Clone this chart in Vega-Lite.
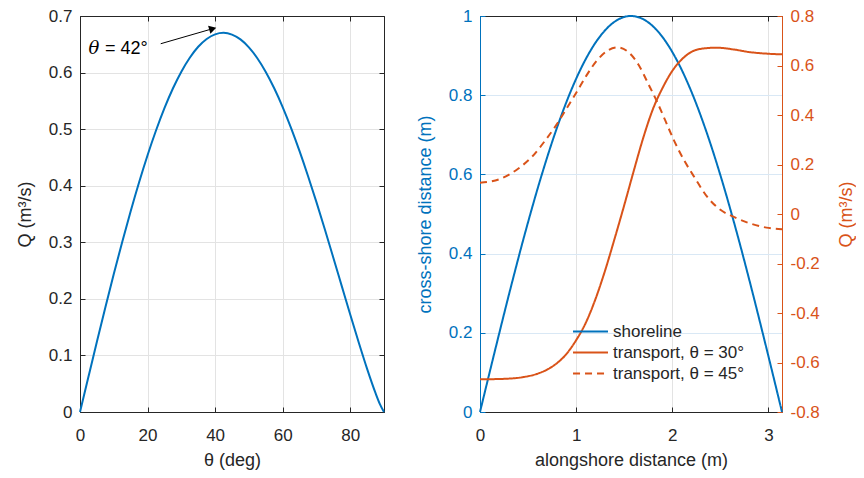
{
  "$schema": "https://vega.github.io/schema/vega-lite/v6.json",
  "background": "white",
  "padding": {"left": 15, "top": 6, "right": 0, "bottom": 0},
  "bounds": "flush",
  "spacing": 96,
  "config": {
    "view": {"stroke": "#262626", "strokeWidth": 1},
    "font": "Liberation Sans",
    "axis": {
      "labelFont": "Liberation Sans", "labelFontSize": 17, "labelColor": "#262626",
      "titleFont": "Liberation Sans", "titleFontSize": 18, "titleFontWeight": "normal", "titleColor": "#262626",
      "domainColor": "#262626", "tickColor": "#262626", "tickSize": -5, "gridColor": "#e3e3e3",
      "labelPadding": 20, "titlePadding": 8, "labelFlush": false
    },
    "axisY": {"labelPadding": 13, "titlePadding": 14}
  },
  "datasets": {
    "qtheta": [
      {"theta": 0, "Q": 0}, {"theta": 2.5, "Q": 0.0623}, {"theta": 5, "Q": 0.1241}, {"theta": 7.5, "Q": 0.1847},
      {"theta": 10, "Q": 0.2438}, {"theta": 12.5, "Q": 0.3007}, {"theta": 15, "Q": 0.355}, {"theta": 17.5, "Q": 0.4062},
      {"theta": 20, "Q": 0.4539}, {"theta": 22.5, "Q": 0.4976}, {"theta": 25, "Q": 0.5371}, {"theta": 27.5, "Q": 0.5718},
      {"theta": 30, "Q": 0.6016}, {"theta": 32.5, "Q": 0.6263}, {"theta": 35, "Q": 0.6456}, {"theta": 37.5, "Q": 0.6594},
      {"theta": 40, "Q": 0.6676}, {"theta": 42.5, "Q": 0.6702}, {"theta": 45, "Q": 0.6671}, {"theta": 47.5, "Q": 0.6586},
      {"theta": 50, "Q": 0.6446}, {"theta": 52.5, "Q": 0.6254}, {"theta": 55, "Q": 0.6012}, {"theta": 57.5, "Q": 0.5723},
      {"theta": 60, "Q": 0.5391}, {"theta": 62.5, "Q": 0.5018}, {"theta": 65, "Q": 0.461}, {"theta": 67.5, "Q": 0.4172},
      {"theta": 70, "Q": 0.3709}, {"theta": 72.5, "Q": 0.3225}, {"theta": 75, "Q": 0.2728}, {"theta": 77.5, "Q": 0.2225},
      {"theta": 80, "Q": 0.1723}, {"theta": 82.5, "Q": 0.1232}, {"theta": 85, "Q": 0.0762}, {"theta": 87.5, "Q": 0.0333},
      {"theta": 88.75, "Q": 0.0145}, {"theta": 90, "Q": 0}
    ],
    "arrow": [{"x1": 23.9, "y1": 0.651, "x2": 39.3, "y2": 0.6776}],
    "labels": [
      {"x": 2.5, "y": 0.633, "txt": "θ", "kind": "sym"},
      {"x": 7.4, "y": 0.633, "txt": "= 42°", "kind": "txt"}
    ],
    "shore": [
      {"x": 0, "y": 0, "series": "shoreline"}, {"x": 0.1571, "y": 0.15643, "series": "shoreline"},
      {"x": 0.3142, "y": 0.30902, "series": "shoreline"}, {"x": 0.4712, "y": 0.45399, "series": "shoreline"},
      {"x": 0.6283, "y": 0.58779, "series": "shoreline"}, {"x": 0.7854, "y": 0.70711, "series": "shoreline"},
      {"x": 0.9425, "y": 0.80902, "series": "shoreline"}, {"x": 1.0996, "y": 0.89101, "series": "shoreline"},
      {"x": 1.2566, "y": 0.95106, "series": "shoreline"}, {"x": 1.4137, "y": 0.98769, "series": "shoreline"},
      {"x": 1.5708, "y": 1, "series": "shoreline"}, {"x": 1.7279, "y": 0.98769, "series": "shoreline"},
      {"x": 1.885, "y": 0.95106, "series": "shoreline"}, {"x": 2.042, "y": 0.89101, "series": "shoreline"},
      {"x": 2.1991, "y": 0.80902, "series": "shoreline"}, {"x": 2.3562, "y": 0.70711, "series": "shoreline"},
      {"x": 2.5133, "y": 0.58779, "series": "shoreline"}, {"x": 2.6704, "y": 0.45399, "series": "shoreline"},
      {"x": 2.8274, "y": 0.30902, "series": "shoreline"}, {"x": 2.9845, "y": 0.15643, "series": "shoreline"},
      {"x": 3.1416, "y": 0, "series": "shoreline"}
    ],
    "transport": [
      {"x": 0, "Q": -0.668, "series": "transport, θ = 30°"},
      {"x": 0.25, "Q": -0.666, "series": "transport, θ = 30°"},
      {"x": 0.45, "Q": -0.659, "series": "transport, θ = 30°"},
      {"x": 0.6, "Q": -0.645, "series": "transport, θ = 30°"},
      {"x": 0.75, "Q": -0.617, "series": "transport, θ = 30°"},
      {"x": 0.9, "Q": -0.565, "series": "transport, θ = 30°"},
      {"x": 1.0, "Q": -0.51, "series": "transport, θ = 30°"},
      {"x": 1.1, "Q": -0.44, "series": "transport, θ = 30°"},
      {"x": 1.2, "Q": -0.345, "series": "transport, θ = 30°"},
      {"x": 1.3, "Q": -0.23, "series": "transport, θ = 30°"},
      {"x": 1.4, "Q": -0.1, "series": "transport, θ = 30°"},
      {"x": 1.5, "Q": 0.035, "series": "transport, θ = 30°"},
      {"x": 1.6, "Q": 0.175, "series": "transport, θ = 30°"},
      {"x": 1.7, "Q": 0.31, "series": "transport, θ = 30°"},
      {"x": 1.8, "Q": 0.425, "series": "transport, θ = 30°"},
      {"x": 1.9, "Q": 0.51, "series": "transport, θ = 30°"},
      {"x": 2.0, "Q": 0.578, "series": "transport, θ = 30°"},
      {"x": 2.1, "Q": 0.625, "series": "transport, θ = 30°"},
      {"x": 2.2, "Q": 0.655, "series": "transport, θ = 30°"},
      {"x": 2.33, "Q": 0.669, "series": "transport, θ = 30°"},
      {"x": 2.46, "Q": 0.672, "series": "transport, θ = 30°"},
      {"x": 2.635, "Q": 0.665, "series": "transport, θ = 30°"},
      {"x": 2.808, "Q": 0.654, "series": "transport, θ = 30°"},
      {"x": 2.98, "Q": 0.648, "series": "transport, θ = 30°"},
      {"x": 3.1416, "Q": 0.645, "series": "transport, θ = 30°"},
      {"x": 0, "Q": 0.126, "series": "transport, θ = 45°"},
      {"x": 0.21, "Q": 0.142, "series": "transport, θ = 45°"},
      {"x": 0.4, "Q": 0.184, "series": "transport, θ = 45°"},
      {"x": 0.54, "Q": 0.231, "series": "transport, θ = 45°"},
      {"x": 0.68, "Q": 0.298, "series": "transport, θ = 45°"},
      {"x": 0.8, "Q": 0.363, "series": "transport, θ = 45°"},
      {"x": 0.9, "Q": 0.426, "series": "transport, θ = 45°"},
      {"x": 1.006, "Q": 0.493, "series": "transport, θ = 45°"},
      {"x": 1.11, "Q": 0.561, "series": "transport, θ = 45°"},
      {"x": 1.214, "Q": 0.619, "series": "transport, θ = 45°"},
      {"x": 1.335, "Q": 0.662, "series": "transport, θ = 45°"},
      {"x": 1.43, "Q": 0.673, "series": "transport, θ = 45°"},
      {"x": 1.55, "Q": 0.652, "series": "transport, θ = 45°"},
      {"x": 1.649, "Q": 0.603, "series": "transport, θ = 45°"},
      {"x": 1.753, "Q": 0.524, "series": "transport, θ = 45°"},
      {"x": 1.839, "Q": 0.456, "series": "transport, θ = 45°"},
      {"x": 1.926, "Q": 0.379, "series": "transport, θ = 45°"},
      {"x": 2.012, "Q": 0.302, "series": "transport, θ = 45°"},
      {"x": 2.116, "Q": 0.222, "series": "transport, θ = 45°"},
      {"x": 2.238, "Q": 0.144, "series": "transport, θ = 45°"},
      {"x": 2.358, "Q": 0.072, "series": "transport, θ = 45°"},
      {"x": 2.497, "Q": 0.018, "series": "transport, θ = 45°"},
      {"x": 2.635, "Q": -0.011, "series": "transport, θ = 45°"},
      {"x": 2.808, "Q": -0.038, "series": "transport, θ = 45°"},
      {"x": 2.98, "Q": -0.055, "series": "transport, θ = 45°"},
      {"x": 3.1416, "Q": -0.062, "series": "transport, θ = 45°"}
    ]
  },
  "hconcat": [
    {
      "width": 304,
      "height": 396,
      "layer": [
        {
          "data": {"name": "qtheta"},
          "mark": {"type": "line", "color": "#0072BD", "strokeWidth": 2, "interpolate": "monotone"},
          "encoding": {
            "x": {"field": "theta", "type": "quantitative", "scale": {"domain": [0, 90], "nice": false, "zero": false},
                  "axis": {"values": [0, 20, 40, 60, 80], "title": "θ (deg)", "grid": true, "labelExpr": "'' + datum.value"}},
            "y": {"field": "Q", "type": "quantitative", "scale": {"domain": [0, 0.7], "nice": false},
                  "axis": {"values": [0, 0.1, 0.2, 0.3, 0.4, 0.5, 0.6, 0.7], "title": "Q (m³/s)", "grid": true, "labelExpr": "'' + datum.value"}}
          }
        },
        {
          "data": {"name": "arrow"},
          "mark": {"type": "rule", "color": "#000000", "strokeWidth": 1},
          "encoding": {
            "x": {"field": "x1", "type": "quantitative",
                  "axis": {"orient": "top", "values": [0, 20, 40, 60, 80], "labels": false, "grid": false, "title": null}},
            "x2": {"field": "x2"},
            "y": {"field": "y1", "type": "quantitative",
                  "axis": {"orient": "right", "values": [0, 0.1, 0.2, 0.3, 0.4, 0.5, 0.6, 0.7], "labels": false, "grid": false, "title": null}},
            "y2": {"field": "y2"}
          }
        },
        {
          "data": {"name": "arrow"},
          "mark": {"type": "point", "shape": "triangle-right", "filled": true, "color": "#000000", "size": 70, "angle": -16, "opacity": 1},
          "encoding": {
            "x": {"field": "x2", "type": "quantitative", "axis": null},
            "y": {"field": "y2", "type": "quantitative", "axis": null}
          }
        },
        {
          "data": {"name": "labels"},
          "transform": [{"filter": "datum.kind == 'sym'"}],
          "mark": {"type": "text", "align": "left", "baseline": "alphabetic", "font": "DejaVu Serif", "fontStyle": "italic", "fontSize": 18, "color": "#000000"},
          "encoding": {
            "x": {"field": "x", "type": "quantitative", "axis": null},
            "y": {"field": "y", "type": "quantitative", "axis": null},
            "text": {"field": "txt"}
          }
        },
        {
          "data": {"name": "labels"},
          "transform": [{"filter": "datum.kind == 'txt'"}],
          "mark": {"type": "text", "align": "left", "baseline": "alphabetic", "font": "Liberation Sans", "fontSize": 18, "color": "#000000"},
          "encoding": {
            "x": {"field": "x", "type": "quantitative", "axis": null},
            "y": {"field": "y", "type": "quantitative", "axis": null},
            "text": {"field": "txt"}
          }
        }
      ],
      "resolve": {"axis": {"x": "independent", "y": "independent"}}
    },
    {
      "width": 302,
      "height": 396,
      "layer": [
        {
          "data": {"name": "shore"},
          "mark": {"type": "line", "strokeWidth": 2, "interpolate": "monotone"},
          "encoding": {
            "x": {"field": "x", "type": "quantitative", "scale": {"domain": [0, 3.1416], "nice": false, "zero": false},
                  "axis": {"values": [0, 1, 2, 3], "title": "alongshore distance (m)", "grid": true, "labelExpr": "'' + datum.value"}},
            "y": {"field": "y", "type": "quantitative", "scale": {"domain": [0, 1], "nice": false},
                  "axis": {"orient": "left", "values": [0, 0.2, 0.4, 0.6, 0.8, 1], "title": "cross-shore distance (m)", "grid": true,
                           "gridColor": "#d9e8f5", "labelExpr": "'' + datum.value",
                           "labelColor": "#0072BD", "titleColor": "#0072BD", "domainColor": "#0072BD", "tickColor": "#0072BD"}},
            "color": {"field": "series", "type": "nominal",
                      "scale": {"domain": ["shoreline", "transport, θ = 30°", "transport, θ = 45°"], "range": ["#0072BD", "#D95319", "#D95319"]},
                      "legend": {"orient": "none", "legendX": 498, "legendY": 303, "title": null, "symbolType": "M-1.52,0H1.52", "symbolSize": 529,
                                 "symbolStrokeWidth": 2, "labelOffset": 10, "rowPadding": 0, "labelFontSize": 17, "labelFont": "Liberation Sans",
                                 "labelColor": "#262626", "padding": 0}},
            "strokeDash": {"field": "series", "type": "nominal",
                      "scale": {"domain": ["shoreline", "transport, θ = 30°", "transport, θ = 45°"], "range": [[1, 0], [1, 0], [7, 5]]},
                      "legend": {"orient": "none", "legendX": 498, "legendY": 303, "title": null, "symbolType": "M-1.52,0H1.52", "symbolSize": 529,
                                 "symbolStrokeWidth": 2, "labelOffset": 10, "rowPadding": 0, "labelFontSize": 17, "labelFont": "Liberation Sans",
                                 "labelColor": "#262626", "padding": 0}}
          }
        },
        {
          "data": {"name": "transport"},
          "mark": {"type": "line", "strokeWidth": 2, "interpolate": "monotone"},
          "encoding": {
            "x": {"field": "x", "type": "quantitative",
                  "axis": {"orient": "top", "values": [0, 1, 2, 3], "labels": false, "grid": false, "title": null}},
            "y": {"field": "Q", "type": "quantitative", "scale": {"domain": [-0.8, 0.8], "nice": false, "zero": false},
                  "axis": {"orient": "right", "values": [-0.8, -0.6, -0.4, -0.2, 0, 0.2, 0.4, 0.6, 0.8], "title": "Q (m³/s)", "grid": false,
                           "labelExpr": "'' + datum.value", "titleAngle": 270, "titleBaseline": "top", "titlePadding": 18,
                           "labelColor": "#D95319", "titleColor": "#D95319", "domainColor": "#D95319", "tickColor": "#D95319"}},
            "color": {"field": "series", "type": "nominal"},
            "strokeDash": {"field": "series", "type": "nominal"}
          }
        }
      ],
      "resolve": {"scale": {"y": "independent"}, "axis": {"x": "independent", "y": "independent"}}
    }
  ]
}
